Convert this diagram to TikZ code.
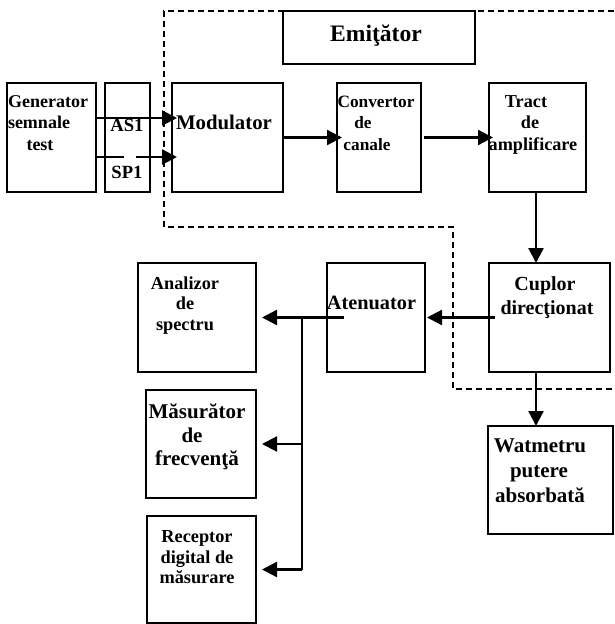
\documentclass[tikz,border=0pt]{standalone}
\usepackage{fontspec}
\setmainfont{Liberation Serif}
\usetikzlibrary{arrows.meta,calc}
\begin{document}
\begin{tikzpicture}[x=1pt,y=-1pt,
  box/.style={draw, line width=1.5pt, inner sep=0pt, outer sep=0pt, anchor=north west},
  lbl/.style={anchor=base, inner sep=0pt, font=\fontsize{#1}{#1}\selectfont\bfseries},
  conn/.style={line width=2.2pt, -{Triangle[length=15pt,width=15pt]}},
  wire/.style={line width=2.2pt},
  bound/.style={line width=1.4pt, dash pattern=on 6pt off 4pt}]
\useasboundingbox (0,0) rectangle (614,624);

% dashed boundary of the transmitter
\draw[bound] (614,11) -- (164,11) -- (164,227) -- (453,227) -- (453,389) -- (614,389);

% boxes
\node[box, fill=white, minimum width=192pt, minimum height=53pt] (emi) at (283,11) {};
\node[box, minimum width=89pt,  minimum height=109pt] (gen)   at (7,83) {};
\node[box, minimum width=45pt,  minimum height=109pt] (as)    at (105,83) {};
\node[box, minimum width=111pt, minimum height=109pt] (mod)   at (172,83) {};
\node[box, minimum width=84pt,  minimum height=109pt] (conv)  at (337,83) {};
\node[box, minimum width=97pt,  minimum height=109pt] (tract) at (489,83) {};
\node[box, minimum width=121pt, minimum height=109pt] (cup)   at (489,263) {};
\node[box, minimum width=98pt,  minimum height=109pt] (aten)  at (327,263) {};
\node[box, minimum width=118pt, minimum height=109pt] (ana)   at (138,263) {};
\node[box, minimum width=110pt, minimum height=108pt] (mas)   at (146,390) {};
\node[box, minimum width=109pt, minimum height=107pt] (rec)   at (147,516) {};
\node[box, minimum width=125pt, minimum height=108pt] (wat)   at (488,426) {};

% labels
\node[lbl=23.6] (emil) at (376,41.5) {Emiţător};
\node[lbl=18] (gen1) at (48,107) {Generator};
\node[lbl=18] (gen2) at (39,128) {semnale};
\node[lbl=18] (gen3) at (40,150) {test};
\node[lbl=18.6] (as1) at (127,131) {AS1};
\node[lbl=18.6] (sp1) at (127,178) {SP1};
\node[lbl=20.8] (modl) at (224,129) {Modulator};
\node[lbl=17.3] (conv1) at (376,107) {Convertor};
\node[lbl=17.3] (conv2) at (363,128) {de};
\node[lbl=17.3] (conv3) at (367,150) {canale};
\node[lbl=18.2] (tr1) at (526,107) {Tract};
\node[lbl=18.2] (tr2) at (530,128) {de};
\node[lbl=18.2] (tr3) at (533,150) {amplificare};
\node[lbl=20] (cup1) at (545,290) {Cuplor};
\node[lbl=20] (cup2) at (547,314) {direcţionat};
\node[lbl=20.3] (aten1) at (371.5,309) {Atenuator};
\node[lbl=18.3] (ana1) at (185,289) {Analizor};
\node[lbl=18.3] (ana2) at (185,309) {de};
\node[lbl=18.3] (ana3) at (185,330) {spectru};
\node[lbl=21] (mas1) at (197,418) {Măsurător};
\node[lbl=21] (mas2) at (192,442) {de};
\node[lbl=21] (mas3) at (197,465) {frecvenţă};
\node[lbl=18.3] (rec1) at (197,542) {Receptor};
\node[lbl=18.3] (rec2) at (197,563) {digital de};
\node[lbl=18.3] (rec3) at (197,583) {măsurare};
\node[lbl=21] (wat1) at (540,452) {Watmetru};
\node[lbl=21] (wat2) at (539,477) {putere};
\node[lbl=21] (wat3) at (540,502) {absorbată};

% connectors
\draw[conn] ([yshift=19.5pt]gen.east) -- ([yshift=19.5pt,xshift=5pt]mod.west);
\draw[conn] ([yshift=-19.5pt]gen.east) -- ++(28,0) ++(12,0) -- ([yshift=-19.5pt,xshift=5pt]mod.west);
\draw[conn] (mod.east) -- ([xshift=5pt]conv.west);
\draw[conn] ([xshift=3pt]conv.east) -- ([xshift=4pt]tract.west);
\draw[conn] ([xshift=-1.5pt]tract.south) -- ([xshift=-1.5pt]tract.south |- cup.north);
\draw[conn] ([xshift=-1.5pt]tract.south |- cup.south) -- ([xshift=-1.5pt]tract.south |- wat.north);
\draw[conn] ([xshift=6pt]cup.west) -- ([xshift=2pt]aten.east);
\draw[conn] ([xshift=17pt]aten.west) -- ([xshift=6pt]ana.east);
\coordinate (br) at (302,318);
\draw[wire] (br) -- (br |- rec.east);
\draw[conn] (br |- mas.east) -- ([xshift=6pt]mas.east);
\draw[conn] (br |- rec.east) -- ([xshift=6pt]rec.east);
\end{tikzpicture}
\end{document}
